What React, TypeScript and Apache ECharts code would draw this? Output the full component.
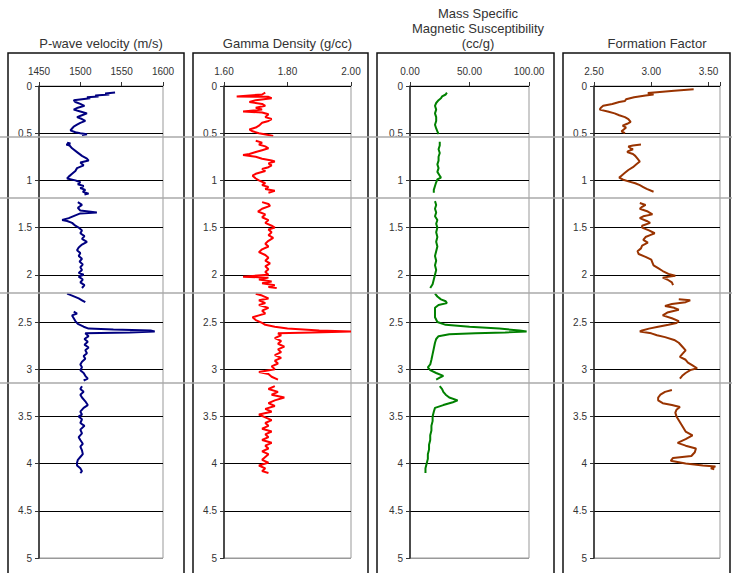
import React, { useEffect, useRef } from "react";
import * as echarts from "echarts";

// [depth (m), value]; null marks a gap between core sections
const PWAVE: (number[] | null)[] = [
  [0.07, 1542], [0.08, 1530], [0.09, 1535], [0.1, 1518], [0.11, 1522], [0.12, 1508], [0.13, 1512], [0.15, 1492],
  [0.17, 1494], [0.19, 1500], [0.21, 1505], [0.23, 1497], [0.25, 1492], [0.27, 1500], [0.29, 1508], [0.31, 1502],
  [0.33, 1496], [0.35, 1502], [0.37, 1506], [0.39, 1500], [0.41, 1496], [0.43, 1492], [0.45, 1490], [0.47, 1488],
  [0.49, 1494], [0.5, 1500], [0.51, 1508], [0.52, 1502],
  null,
  [0.6, 1484], [0.61, 1488], [0.62, 1483], [0.63, 1487], [0.66, 1490], [0.7, 1496], [0.74, 1502], [0.77, 1508],
  [0.79, 1510], [0.81, 1500], [0.84, 1504], [0.87, 1496], [0.9, 1494], [0.93, 1490], [0.96, 1486], [0.98, 1484],
  [1.0, 1494], [1.02, 1500], [1.04, 1497], [1.06, 1504], [1.08, 1500], [1.1, 1506], [1.12, 1503], [1.14, 1510], [1.15, 1505],
  null,
  [1.23, 1497], [1.26, 1502], [1.29, 1497], [1.32, 1500], [1.34, 1520], [1.35, 1500], [1.37, 1494], [1.4, 1486],
  [1.42, 1478], [1.43, 1484], [1.45, 1490], [1.48, 1494], [1.5, 1498], [1.53, 1502], [1.56, 1500], [1.59, 1505],
  [1.62, 1502], [1.65, 1508], [1.68, 1502], [1.71, 1498], [1.74, 1496], [1.77, 1500], [1.8, 1498], [1.83, 1502],
  [1.86, 1499], [1.89, 1503], [1.92, 1500], [1.95, 1502], [1.98, 1498], [2.0, 1504], [2.02, 1498], [2.05, 1503],
  [2.08, 1500], [2.11, 1505], [2.14, 1502],
  null,
  [2.2, 1484], [2.22, 1490], [2.25, 1498], [2.27, 1502], [2.29, 1506],
  null,
  [2.39, 1492], [2.41, 1496], [2.43, 1490], [2.46, 1492], [2.49, 1494], [2.52, 1497], [2.55, 1504], [2.57, 1510],
  [2.58, 1540], [2.59, 1585], [2.6, 1590], [2.61, 1560], [2.62, 1506], [2.65, 1510], [2.68, 1505], [2.71, 1509],
  [2.74, 1505], [2.77, 1510], [2.8, 1506], [2.83, 1508], [2.86, 1504], [2.89, 1506], [2.92, 1502], [2.95, 1500],
  [2.98, 1502], [3.01, 1500], [3.04, 1504], [3.07, 1506], [3.1, 1509], [3.12, 1504],
  null,
  [3.18, 1502], [3.21, 1500], [3.24, 1504], [3.27, 1500], [3.3, 1502], [3.34, 1506], [3.38, 1509], [3.41, 1504],
  [3.45, 1500], [3.48, 1502], [3.5, 1498], [3.53, 1502], [3.57, 1500], [3.6, 1505], [3.64, 1500], [3.68, 1502],
  [3.72, 1498], [3.75, 1500], [3.79, 1503], [3.82, 1500], [3.86, 1502], [3.9, 1503], [3.93, 1500], [3.96, 1497],
  [3.99, 1496], [4.02, 1496], [4.05, 1500], [4.08, 1502], [4.1, 1500],
];

const GAMMA: (number[] | null)[] = [
  [0.07, 1.73], [0.09, 1.72], [0.11, 1.64], [0.115, 1.74], [0.13, 1.75], [0.15, 1.7], [0.17, 1.68], [0.19, 1.72],
  [0.21, 1.73], [0.23, 1.7], [0.25, 1.72], [0.27, 1.66], [0.28, 1.72], [0.3, 1.74], [0.33, 1.73], [0.35, 1.75],
  [0.37, 1.74], [0.39, 1.72], [0.42, 1.71], [0.44, 1.7], [0.46, 1.68], [0.48, 1.69], [0.5, 1.71], [0.52, 1.74], [0.53, 1.755],
  null,
  [0.58, 1.7], [0.6, 1.72], [0.62, 1.71], [0.64, 1.73], [0.66, 1.74], [0.68, 1.72], [0.7, 1.7], [0.72, 1.68],
  [0.73, 1.66], [0.75, 1.7], [0.77, 1.72], [0.79, 1.75], [0.8, 1.76], [0.82, 1.74], [0.84, 1.75], [0.86, 1.74],
  [0.88, 1.72], [0.9, 1.73], [0.93, 1.7], [0.95, 1.69], [0.98, 1.7], [1.0, 1.71], [1.03, 1.73], [1.05, 1.72],
  [1.07, 1.74], [1.09, 1.73], [1.11, 1.76], [1.13, 1.74],
  null,
  [1.23, 1.72], [1.25, 1.74], [1.27, 1.745], [1.3, 1.72], [1.33, 1.707], [1.36, 1.73], [1.39, 1.72], [1.42, 1.74],
  [1.45, 1.73], [1.48, 1.75], [1.5, 1.76], [1.52, 1.74], [1.55, 1.75], [1.58, 1.74], [1.61, 1.755], [1.64, 1.74],
  [1.67, 1.73], [1.7, 1.74], [1.73, 1.72], [1.76, 1.71], [1.79, 1.73], [1.82, 1.74], [1.85, 1.73], [1.88, 1.745],
  [1.91, 1.73], [1.94, 1.74], [1.97, 1.73], [2.0, 1.74], [2.02, 1.66], [2.03, 1.74], [2.05, 1.71], [2.07, 1.75],
  [2.09, 1.72], [2.11, 1.76], [2.13, 1.74], [2.14, 1.766],
  null,
  [2.2, 1.7], [2.22, 1.72], [2.25, 1.74], [2.27, 1.71], [2.3, 1.73], [2.32, 1.71], [2.35, 1.74], [2.38, 1.72],
  [2.41, 1.73], [2.43, 1.71], [2.45, 1.69], [2.48, 1.7], [2.51, 1.72], [2.53, 1.73], [2.55, 1.76], [2.57, 1.8],
  [2.59, 1.9], [2.6, 2.0], [2.61, 1.88], [2.62, 1.77], [2.64, 1.78], [2.67, 1.76], [2.7, 1.78], [2.73, 1.77],
  [2.76, 1.79], [2.79, 1.77], [2.82, 1.78], [2.85, 1.76], [2.88, 1.78], [2.91, 1.76], [2.94, 1.77], [2.97, 1.75],
  [3.0, 1.76], [3.03, 1.71], [3.05, 1.74], [3.08, 1.75], [3.11, 1.77],
  null,
  [3.18, 1.76], [3.21, 1.74], [3.24, 1.77], [3.27, 1.75], [3.3, 1.79], [3.33, 1.76], [3.36, 1.74], [3.39, 1.76],
  [3.42, 1.73], [3.45, 1.75], [3.48, 1.71], [3.51, 1.73], [3.54, 1.75], [3.57, 1.73], [3.6, 1.74], [3.63, 1.72],
  [3.66, 1.75], [3.69, 1.73], [3.72, 1.74], [3.75, 1.72], [3.78, 1.75], [3.81, 1.73], [3.84, 1.74], [3.87, 1.72],
  [3.9, 1.74], [3.93, 1.73], [3.96, 1.72], [3.99, 1.74], [4.02, 1.71], [4.05, 1.73], [4.08, 1.72], [4.1, 1.74],
];

const MAGSUS: (number[] | null)[] = [
  [0.07, 31], [0.09, 30], [0.11, 27], [0.13, 26], [0.15, 24], [0.18, 22], [0.21, 21], [0.25, 22], [0.29, 21],
  [0.33, 22], [0.37, 22], [0.41, 21], [0.45, 22], [0.48, 23], [0.51, 24],
  null,
  [0.59, 25], [0.63, 25], [0.67, 24], [0.71, 25], [0.75, 24], [0.79, 24], [0.83, 23], [0.87, 24], [0.91, 23],
  [0.95, 25], [0.97, 26], [0.99, 23], [1.02, 22], [1.06, 21], [1.1, 20], [1.13, 20],
  null,
  [1.22, 21], [1.26, 22], [1.3, 21], [1.34, 22], [1.38, 21], [1.42, 23], [1.46, 22], [1.5, 23], [1.55, 22],
  [1.6, 23], [1.65, 22], [1.7, 23], [1.75, 22], [1.8, 21], [1.85, 22], [1.9, 21], [1.95, 22], [2.0, 21],
  [2.05, 20], [2.1, 19], [2.14, 17],
  null,
  [2.2, 21], [2.23, 23], [2.26, 26], [2.28, 30], [2.3, 31], [2.32, 24], [2.35, 21], [2.4, 21], [2.45, 21],
  [2.5, 23], [2.53, 30], [2.55, 50], [2.57, 75], [2.59, 92], [2.6, 98], [2.61, 80], [2.62, 55], [2.63, 33],
  [2.65, 24], [2.68, 22], [2.72, 21], [2.78, 20], [2.84, 19], [2.9, 18], [2.95, 17], [2.98, 15], [3.01, 17],
  [3.04, 22], [3.07, 28], [3.09, 25], [3.11, 22],
  null,
  [3.18, 25], [3.21, 27], [3.24, 28], [3.27, 30], [3.3, 33], [3.33, 40], [3.35, 36], [3.38, 28], [3.41, 21],
  [3.45, 20], [3.5, 19], [3.55, 19], [3.6, 18], [3.65, 18], [3.7, 17], [3.75, 17], [3.8, 16], [3.85, 16],
  [3.9, 15], [3.95, 15], [4.0, 14], [4.05, 13], [4.1, 13],
];

const FORMATION: (number[] | null)[] = [
  [0.035, 3.37], [0.05, 3.2], [0.065, 3.05], [0.075, 2.97], [0.09, 3.02], [0.1, 2.95], [0.12, 2.85], [0.14, 2.78],
  [0.16, 2.77], [0.17, 2.72], [0.19, 2.66], [0.21, 2.58], [0.23, 2.56], [0.25, 2.55], [0.27, 2.62], [0.29, 2.68],
  [0.31, 2.72], [0.33, 2.77], [0.35, 2.8], [0.38, 2.82], [0.4, 2.79], [0.42, 2.75], [0.44, 2.78], [0.46, 2.76],
  [0.48, 2.74], [0.5, 2.77],
  null,
  [0.62, 2.91], [0.63, 2.84], [0.64, 2.8], [0.66, 2.82], [0.67, 2.84], [0.69, 2.8], [0.7, 2.79], [0.72, 2.84],
  [0.74, 2.86], [0.77, 2.88], [0.8, 2.9], [0.83, 2.87], [0.86, 2.84], [0.89, 2.8], [0.92, 2.77], [0.95, 2.74],
  [0.97, 2.72], [0.99, 2.75], [1.01, 2.8], [1.03, 2.86], [1.05, 2.9], [1.07, 2.93], [1.09, 2.96], [1.12, 3.02],
  null,
  [1.24, 2.9], [1.26, 2.95], [1.28, 2.92], [1.3, 2.9], [1.33, 2.97], [1.36, 3.01], [1.38, 2.93], [1.4, 2.9],
  [1.43, 2.96], [1.45, 2.99], [1.48, 2.92], [1.5, 2.92], [1.53, 2.98], [1.56, 3.03], [1.58, 2.99], [1.6, 2.95],
  [1.63, 2.93], [1.66, 2.97], [1.69, 2.92], [1.72, 2.91], [1.75, 2.88], [1.78, 2.89], [1.81, 2.95], [1.84, 3.0],
  [1.87, 3.01], [1.9, 3.02], [1.93, 3.06], [1.96, 3.1], [1.99, 3.15], [2.01, 3.21], [2.03, 3.1], [2.05, 3.14],
  [2.08, 3.18], [2.11, 3.19],
  null,
  [2.26, 3.24], [2.27, 3.34], [2.29, 3.3], [2.31, 3.18], [2.33, 3.12], [2.35, 3.2], [2.37, 3.24], [2.4, 3.14],
  [2.43, 3.1], [2.46, 3.18], [2.49, 3.24], [2.51, 3.22], [2.53, 3.15], [2.55, 3.06], [2.57, 2.98], [2.59, 2.92],
  [2.6, 2.9], [2.62, 3.0], [2.64, 3.05], [2.66, 3.12], [2.69, 3.2], [2.72, 3.24], [2.76, 3.27], [2.8, 3.3],
  [2.84, 3.27], [2.87, 3.25], [2.9, 3.3], [2.93, 3.32], [2.96, 3.36], [2.99, 3.4], [3.01, 3.34], [3.04, 3.3],
  [3.07, 3.27], [3.1, 3.25],
  null,
  [3.22, 3.18], [3.24, 3.12], [3.27, 3.08], [3.3, 3.06], [3.33, 3.06], [3.36, 3.1], [3.38, 3.18], [3.4, 3.25],
  [3.43, 3.22], [3.46, 3.21], [3.5, 3.22], [3.54, 3.24], [3.58, 3.26], [3.62, 3.28], [3.66, 3.3], [3.7, 3.36],
  [3.74, 3.3], [3.78, 3.23], [3.81, 3.3], [3.84, 3.39], [3.88, 3.38], [3.92, 3.35], [3.94, 3.19], [3.97, 3.17],
  [4.0, 3.3], [4.02, 3.45], [4.03, 3.56], [4.05, 3.52], [4.06, 3.55],
];

const TITLES = ["P-wave velocity (m/s)", "Gamma Density (g/cc)", "Mass Specific\nMagnetic Susceptibility\n(cc/g)", "Formation Factor"];
const X_RANGES = [
  { min: 1450, max: 1600, interval: 50, digits: 0 },
  { min: 1.6, max: 2.0, interval: 0.2, digits: 2 },
  { min: 0, max: 100, interval: 50, digits: 2 },
  { min: 2.5, max: 3.6, interval: 0.5, digits: 2 },
];
const DEPTH_MIN = 0;
const DEPTH_MAX = 5;
const DEPTH_STEP = 0.5;
const SECTION_BREAKS_PX = [137, 198, 293, 383];
const COLORS = ["#000080", "#ff0000", "#008000", "#993300"];

const GRIDS = [
  { left: 39, width: 124, boxL: 8, boxR: 184 },
  { left: 224, width: 127, boxL: 193, boxR: 368 },
  { left: 410, width: 119, boxL: 377, boxR: 554 },
  { left: 594, width: 126, boxL: 563, boxR: 730 },
];
const GRID_TOP = 86;
const GRID_H = 472;

function splitSegments(list: (number[] | null)[]) {
  const segs: number[][][] = [];
  let cur: number[][] = [];
  list.forEach((p) => {
    if (p === null) {
      if (cur.length) segs.push(cur);
      cur = [];
    } else cur.push([p[1], p[0]]);
  });
  if (cur.length) segs.push(cur);
  return segs;
}

export default function App() {
  const ref = useRef<HTMLDivElement>(null);
  useEffect(() => {
    if (!ref.current) return;
    const chart = echarts.init(ref.current, null, { renderer: "svg" });
    const datasets = [PWAVE, GAMMA, MAGSUS, FORMATION];
    const splitColors = Array(10).fill("#000").concat(["#999"]);
    const series: any[] = [];
    datasets.forEach((ds, i) => {
      splitSegments(ds).forEach((seg) => {
        series.push({
          type: "line",
          xAxisIndex: i,
          yAxisIndex: i,
          data: seg,
          symbol: "none",
          showSymbol: false,
          silent: true,
          clip: true,
          lineStyle: { color: COLORS[i], width: 2 },
          itemStyle: { color: COLORS[i] },
          z: 3,
        });
      });
    });
    const graphic: any[] = [];
    GRIDS.forEach((g, i) => {
      graphic.push({
        type: "rect",
        shape: { x: g.boxL, y: 53, width: g.boxR - g.boxL, height: 560 },
        style: { fill: "none", stroke: "#111", lineWidth: 1.5 },
        silent: true,
      });
      const cx = g.left + g.width / 2;
      const lines = TITLES[i].split("\n");
      lines.forEach((t, k) => {
        graphic.push({
          type: "text",
          x: i === 2 ? 478 : cx,
          y: 43 - (lines.length - 1 - k) * 15,
          style: {
            text: t,
            fontSize: 13,
            fontFamily: "Liberation Sans, Arial, sans-serif",
            fill: "#333",
            align: "center",
            verticalAlign: "middle",
          },
          silent: true,
        });
      });
    });
    SECTION_BREAKS_PX.forEach((y) => {
      graphic.push({
        type: "line",
        shape: { x1: 0, y1: y, x2: 732, y2: y },
        style: { stroke: "#aaa", lineWidth: 1.5 },
        z: 100,
        silent: true,
      });
    });
    const labelFont = { fontSize: 10, color: "#333", fontFamily: "Liberation Sans, Arial, sans-serif" };
    chart.setOption({
      animation: false,
      backgroundColor: "#fff",
      grid: GRIDS.map((g) => ({
        left: g.left,
        top: GRID_TOP,
        width: g.width,
        height: GRID_H,
        show: true,
        borderColor: "#999",
        borderWidth: 1,
        backgroundColor: "transparent",
        containLabel: false,
        outerBoundsMode: "none",
      })),
      xAxis: X_RANGES.map((r, i) => ({
        type: "value",
        gridIndex: i,
        position: "top",
        min: r.min,
        max: r.max,
        interval: r.interval,
        axisLine: { show: false },
        axisTick: { show: true, length: 4, lineStyle: { color: "#333" } },
        splitLine: { show: false },
        axisLabel: {
          ...labelFont,
          margin: 10,
          formatter: (v: number) => {
            const k = (v - r.min) / r.interval;
            if (Math.abs(k - Math.round(k)) > 1e-6) return "";
            return v.toFixed(r.digits);
          },
        },
      })),
      yAxis: GRIDS.map((_, i) => ({
        type: "value",
        gridIndex: i,
        inverse: true,
        min: DEPTH_MIN,
        max: DEPTH_MAX,
        interval: DEPTH_STEP,
        axisLine: { show: true, lineStyle: { color: "#222", width: 1.5 } },
        axisTick: { show: true, length: 4, lineStyle: { color: "#333" } },
        splitLine: { show: true, lineStyle: { color: splitColors, width: 1 } },
        axisLabel: { ...labelFont, margin: 7, formatter: (v: number) => String(v) },
      })),
      series,
      graphic,
    });
    return () => chart.dispose();
  }, []);
  return (
    <div
      ref={ref}
      style={{ position: "fixed", left: 0, top: 0, width: 732, height: 573, background: "#fff" }}
    />
  );
}
